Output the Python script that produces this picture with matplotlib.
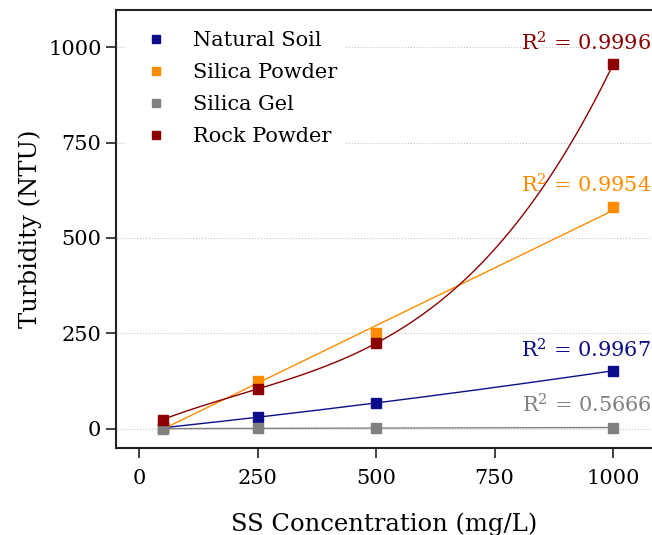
import numpy as np
import matplotlib.pyplot as plt

plt.rcParams['font.family'] = 'DejaVu Serif'
plt.rcParams['mathtext.fontset'] = 'dejavuserif'

# SS concentration (mg/L) and measured turbidity (NTU)
conc = [50, 250, 500, 1000]
natural_soil = [2, 31, 67, 152]
silica_powder = [5, 124, 252, 580]
silica_gel = [0, 1, 2, 3]
rock_powder = [24, 104, 224, 955]

names = ["Natural Soil", "Silica Powder", "Silica Gel", "Rock Powder"]
series = [natural_soil, silica_powder, silica_gel, rock_powder]
colors = ["#0d0d8c", "#ff8c00", "#808080", "#8b0000"]
fit_deg = [2, 1, 1, 3]
r2_text = ["0.9967", "0.9954", "0.5666", "0.9996"]
r2_y = [186, 618, 42, 992]

fig = plt.figure(figsize=(6.52, 5.35), dpi=100)
ax = fig.add_axes([0.178, 0.163, 0.822, 0.818])

# trend lines, then the measured points on top
xs = np.linspace(50, 1000, 200)
for name, y, c, d in zip(names, series, colors, fit_deg):
    coef = np.polyfit(conc, y, d)
    ax.plot(xs, np.polyval(coef, xs), color=c, lw=1, zorder=2)
for name, y, c in zip(names, series, colors):
    ax.plot(conc, y, 's', color=c, ms=7.5, label=name, zorder=3)

for t, yy, c in zip(r2_text, r2_y, colors):
    ax.text(1080, yy, r"R$^{\mathregular{2}}$ = " + t, color=c, fontsize=15,
            ha='right', va='baseline')

ax.set_xlim(-48.5, 1082)
ax.set_ylim(-50, 1097)
ax.set_xticks([0, 250, 500, 750, 1000])
ax.set_yticks([0, 250, 500, 750, 1000])
ax.yaxis.grid(True, linestyle=':', color='#c4c4c4', lw=0.8)
ax.set_axisbelow(True)
ax.tick_params(labelsize=15, length=7, width=1.3, color='#333333')
ax.tick_params(axis='x', pad=8)
for s in ['left', 'bottom', 'top']:
    ax.spines[s].set_linewidth(1.5)
    ax.spines[s].set_color('#222222')
ax.spines['right'].set_visible(False)

ax.set_xlabel("SS Concentration (mg/L)", fontsize=17.5, labelpad=18)
ax.set_ylabel("Turbidity (NTU)", fontsize=17.5, labelpad=4)

leg = ax.legend(loc='upper left', bbox_to_anchor=(0.0, 0.995), fontsize=15,
                frameon=True, edgecolor='none', facecolor='white', framealpha=1,
                markerscale=0.8, handletextpad=0.8, labelspacing=0.62, borderpad=0.4)

fig.savefig("out.png", dpi=100)
